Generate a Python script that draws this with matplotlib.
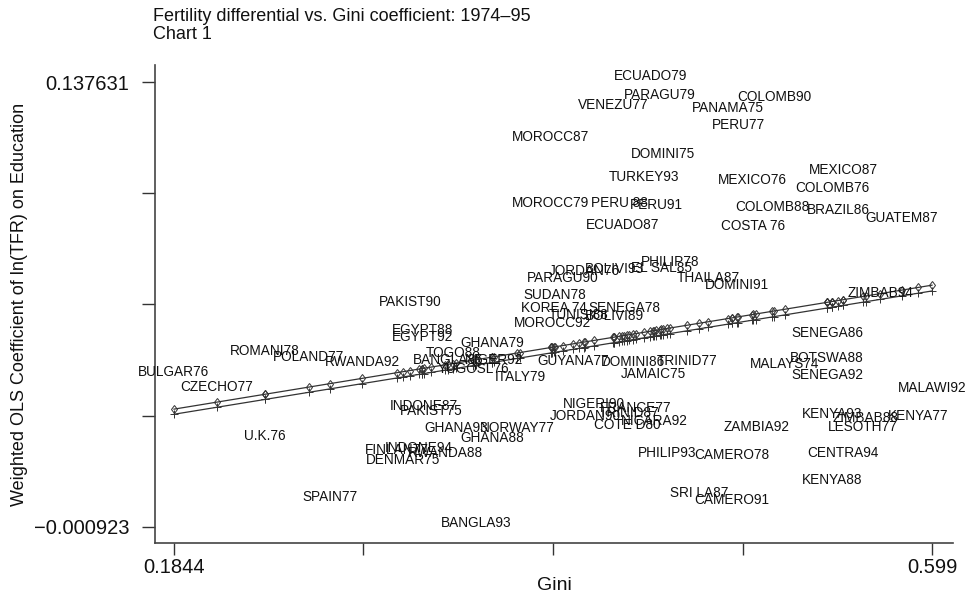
import numpy as np
import matplotlib
matplotlib.use("Agg")
from matplotlib import pyplot as plt

plt.rcParams['font.family'] = ['Liberation Sans', 'DejaVu Sans']

# country-year labels, Gini and weighted OLS coefficient
labels = ["ECUADO79", "PARAGU79", "VENEZU77", "COLOMB90", "PANAMA75", "PERU77",
          "MOROCC87", "DOMINI75", "TURKEY93", "MEXICO76", "MEXICO87", "COLOMB76",
          "MOROCC79", "PERU 88", "PERU91", "COLOMB88", "BRAZIL86", "GUATEM87",
          "ECUADO87", "COSTA 76", "PHILIP78", "EL SAL85", "BOLIVI93", "JORDAN76",
          "PARAGU90", "THAILA87", "DOMINI91", "SUDAN78", "KOREA 74", "SENEGA78",
          "TUNISI88", "BOLIVI89", "MOROCC92", "PAKIST90", "EGYPT88", "EGYPT92",
          "GHANA79", "ROMANI78", "POLAND77", "RWANDA92", "BULGAR76", "CZECHO77",
          "TOGO88", "BANGLA85", "NIGER92", "YUGOSL76", "ITALY79", "GUYANA77",
          "DOMINI86", "TRINID77", "JAMAIC75", "MALAYS74", "BOTSWA88", "SENEGA86",
          "SENEGA92", "ZIMBAB94", "MALAWI92", "INDONE87", "PAKIST75", "NIGERI90",
          "FRANCE77", "JORDAN90", "TRINID87", "NICARA92", "COTE D80", "NORWAY77",
          "GHANA93", "GHANA88", "FINLAN77", "INDONE94", "RWANDA88", "DENMAR75",
          "U.K.76", "SPAIN77", "BANGLA93", "PHILIP93", "CAMERO78", "ZAMBIA92",
          "KENYA93", "ZIMBAB88", "KENYA77", "LESOTH77", "CENTRA94", "KENYA88",
          "SRI LA87", "CAMERO91"]

gini = [0.4448, 0.4502, 0.4245, 0.5126, 0.4874, 0.4929,
        0.3906, 0.4519, 0.4415, 0.5006, 0.5503, 0.5443,
        0.3906, 0.4278, 0.4481, 0.5115, 0.5476, 0.5826,
        0.4295, 0.5011, 0.4557, 0.4508, 0.4251, 0.4087,
        0.3972, 0.4765, 0.4924, 0.3928, 0.3923, 0.4306,
        0.4059, 0.4251, 0.3912, 0.3135, 0.3201, 0.3201,
        0.3583, 0.2342, 0.2582, 0.2872, 0.1844, 0.2079,
        0.3370, 0.3343, 0.3594, 0.3480, 0.3737, 0.4027,
        0.4355, 0.4650, 0.4464, 0.5186, 0.5416, 0.5416,
        0.5416, 0.5706, 0.5990, 0.3212, 0.3250, 0.4141,
        0.4371, 0.4092, 0.4333, 0.4470, 0.4322, 0.3720,
        0.3387, 0.3583, 0.3064, 0.3184, 0.3326, 0.3097,
        0.2342, 0.2697, 0.3496, 0.4541, 0.4896, 0.5028,
        0.5443, 0.5629, 0.5914, 0.5613, 0.5503, 0.5443,
        0.4716, 0.4896]

coef = [0.1395, 0.1336, 0.1305, 0.1330, 0.1295, 0.1242,
        0.1205, 0.1152, 0.1080, 0.1071, 0.1102, 0.1046,
        0.1000, 0.1000, 0.0993, 0.0987, 0.0978, 0.0953,
        0.0931, 0.0928, 0.0816, 0.0797, 0.0794, 0.0788,
        0.0766, 0.0766, 0.0744, 0.0713, 0.0673, 0.0673,
        0.0651, 0.0648, 0.0626, 0.0691, 0.0604, 0.0582,
        0.0564, 0.0539, 0.0520, 0.0504, 0.0473, 0.0427,
        0.0531, 0.0512, 0.0512, 0.0484, 0.0459, 0.0509,
        0.0504, 0.0509, 0.0468, 0.0498, 0.0517, 0.0595,
        0.0464, 0.0719, 0.0424, 0.0367, 0.0352, 0.0374,
        0.0361, 0.0336, 0.0346, 0.0321, 0.0308, 0.0299,
        0.0299, 0.0268, 0.0231, 0.0237, 0.0221, 0.0199,
        0.0274, 0.0084, 0.0003, 0.0221, 0.0215, 0.0302,
        0.0342, 0.0330, 0.0336, 0.0302, 0.0221, 0.0137,
        0.0096, 0.0074]

# two fitted lines (intercept, slope)
fit_a = (0.0186, 0.0931)
fit_b = (0.0171, 0.0926)

x_ticks = [0.1844, 0.599]
y_ticks = [-0.000923, 0.137631]

fig = plt.figure(figsize=(9.65, 5.93), dpi=100)
ax = fig.add_axes([0.1606, 0.0843, 0.827, 0.8061])

for lab, gx, cy in zip(labels, gini, coef):
    ax.text(gx, cy, lab, ha='center', va='center', fontsize=9.8, color='#111111')

xs = np.sort(np.array(gini))
ax.plot(xs, fit_a[0] + fit_a[1] * xs, color='#333333', lw=0.9,
        marker='d', markersize=4.5, mfc='none', mew=0.7)
ax.plot(xs, fit_b[0] + fit_b[1] * xs, color='#333333', lw=0.9,
        marker='+', markersize=6, mew=0.7)

ax.set_xlim(0.1740, 0.6105)
ax.set_ylim(-0.00592, 0.14293)

ax.set_xticks(np.linspace(x_ticks[0], x_ticks[1], 5))
ax.set_xticklabels(["0.1844", "", "", "", "0.599"])
ax.set_yticks(np.linspace(y_ticks[0], y_ticks[1], 5))
ax.set_yticklabels(["\u22120.000923", "", "", "", "0.137631"])
ax.tick_params(axis='x', direction='out', length=8.5, width=1, color='#333333',
               labelsize=14.5, labelcolor='#111111', pad=2)
ax.tick_params(axis='y', direction='out', length=9.5, width=1, color='#333333',
               labelsize=14.5, labelcolor='#111111', pad=9)

for s in ['top', 'right']:
    ax.spines[s].set_visible(False)
for s in ['left', 'bottom']:
    ax.spines[s].set_color('#444444')
    ax.spines[s].set_linewidth(1.2)

ax.set_xlabel("Gini", fontsize=14, color='#111111', labelpad=0)
ax.set_ylabel("Weighted OLS Coefficient of ln(TFR) on Education", fontsize=13,
              color='#111111', labelpad=4)

fig.text(153 / 965, 1 - 8 / 593, "Fertility differential vs. Gini coefficient: 1974\u201395\nChart 1",
         ha='left', va='top', fontsize=13, color='#111111', linespacing=1.05)

fig.savefig("out.png", dpi=100)
